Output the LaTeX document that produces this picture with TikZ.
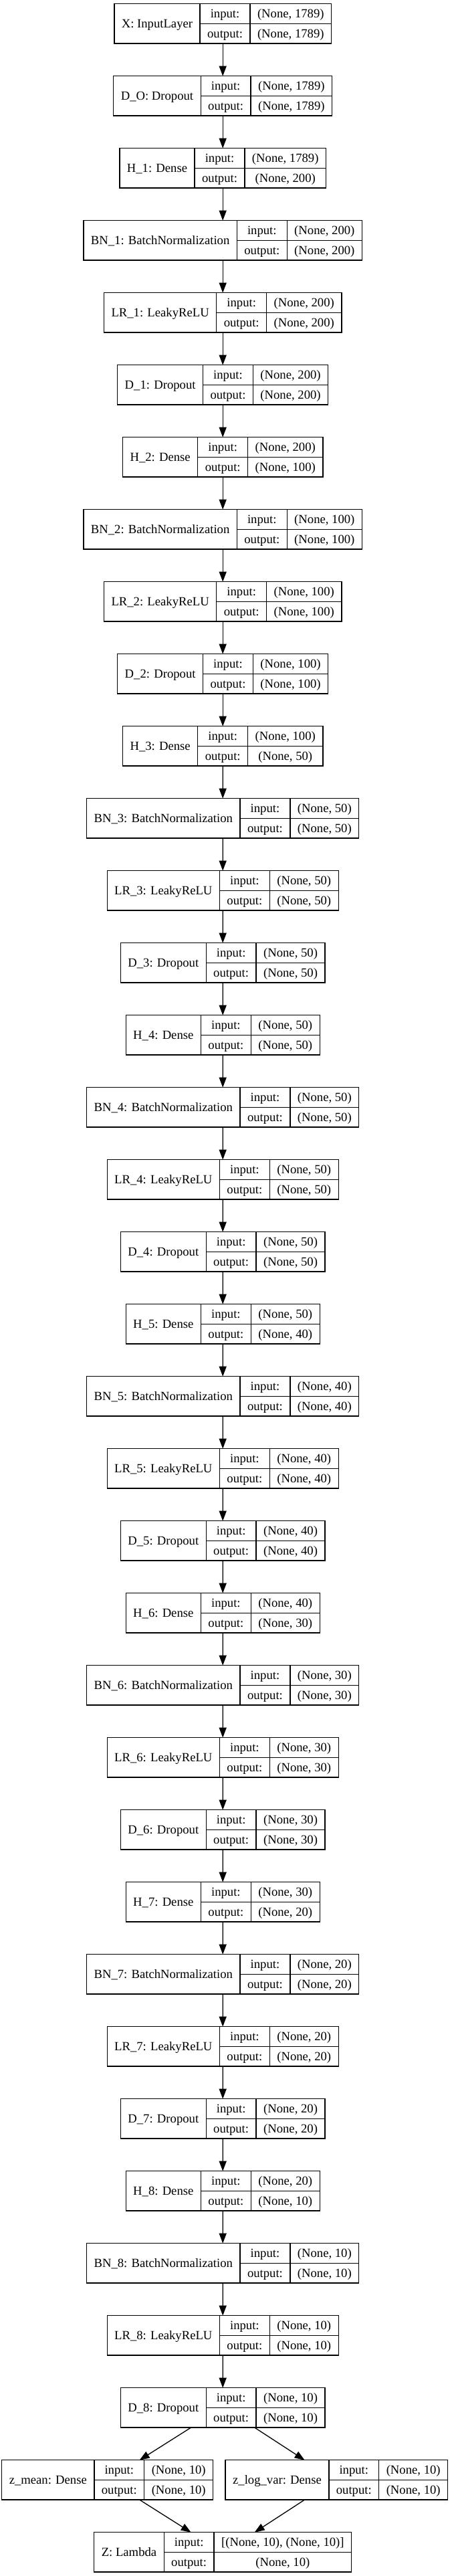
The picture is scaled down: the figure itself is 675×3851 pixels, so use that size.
\documentclass[tikz,border=0pt]{standalone}
\usepackage{fontspec}
\setmainfont{Liberation Serif}
\newfontfamily\kfamily{Liberation Serif}
\newcommand\kfont{\kfamily\fontsize{18.67}{22}\selectfont}
\usetikzlibrary{arrows.meta,fit,calc}
\newdimen\kwdA \newdimen\kwdB \newdimen\kwdC \newdimen\kwdD
\tikzset{
  cell/.style={draw=black, line width=1.33pt, inner sep=0pt, outer sep=0pt,
    font=\kfont, text height=14pt, text depth=2pt, align=center},
  arr/.style={line width=1.33pt, -{Triangle[length=15pt,width=11pt]}},
  whole/.style={inner sep=0pt, outer sep=0pt}
}
% measuring pass (outside the picture): name, center x, row, label, input value, output value
\newcommand\kmeasure[6]{%
  \settowidth\kwdA{\kfont #4}%
  \settowidth\kwdB{\kfont output:}%
  \settowidth\kwdC{\kfont #5}%
  \settowidth\kwdD{\kfont #6}%
  \ifdim\kwdD>\kwdC \kwdC=\kwdD\fi
  \expandafter\xdef\csname kwA#1\endcsname{\the\kwdA}%
  \expandafter\xdef\csname kwB#1\endcsname{\the\kwdB}%
  \expandafter\xdef\csname kwC#1\endcsname{\the\kwdC}%
}
% drawing pass
\newcommand\kdraw[6]{%
  \edef\kta{\csname kwA#1\endcsname}%
  \edef\ktb{\csname kwB#1\endcsname}%
  \edef\ktc{\csname kwC#1\endcsname}%
  \pgfmathsetmacro\kwa{\kta+22}%
  \pgfmathsetmacro\kwb{\ktb+22}%
  \pgfmathsetmacro\kwc{\ktc+22}%
  \pgfmathsetmacro\kxl{#2-(\kwa+\kwb+\kwc)/2}%
  \pgfmathsetmacro\kyt{-(5.7+108*#3)}%
  \node[cell, minimum width=\kwa pt, minimum height=59.3pt, anchor=north west] (#1-l) at (\kxl pt, \kyt pt) {#4};
  \node[cell, minimum width=\kwb pt, minimum height=29.65pt, anchor=north west] (#1-i) at (#1-l.north east) {input:};
  \node[cell, minimum width=\kwb pt, minimum height=29.65pt, anchor=north west] (#1-o) at (#1-i.south west) {output:};
  \node[cell, minimum width=\kwc pt, minimum height=29.65pt, anchor=north west] (#1-vi) at (#1-i.north east) {#5};
  \node[cell, minimum width=\kwc pt, minimum height=29.65pt, anchor=north west] (#1-vo) at (#1-vi.south west) {#6};
  \node[whole, fit=(#1-l)(#1-vo)] (#1) {};
}
\newcommand\klayers{%
\kentry{X}{333.2}{0}{X: InputLayer}{(None, 1789)}{(None, 1789)}%
\kentry{DO}{333.2}{1}{D\_O: Dropout}{(None, 1789)}{(None, 1789)}%
\kentry{H1}{333.2}{2}{H\_1: Dense}{(None, 1789)}{(None, 200)}%
\kentry{BN1}{333.2}{3}{BN\_1: BatchNormalization}{(None, 200)}{(None, 200)}%
\kentry{LR1}{333.2}{4}{LR\_1: LeakyReLU}{(None, 200)}{(None, 200)}%
\kentry{D1}{333.2}{5}{D\_1: Dropout}{(None, 200)}{(None, 200)}%
\kentry{H2}{333.2}{6}{H\_2: Dense}{(None, 200)}{(None, 100)}%
\kentry{BN2}{333.2}{7}{BN\_2: BatchNormalization}{(None, 100)}{(None, 100)}%
\kentry{LR2}{333.2}{8}{LR\_2: LeakyReLU}{(None, 100)}{(None, 100)}%
\kentry{D2}{333.2}{9}{D\_2: Dropout}{(None, 100)}{(None, 100)}%
\kentry{H3}{333.2}{10}{H\_3: Dense}{(None, 100)}{(None, 50)}%
\kentry{BN3}{333.2}{11}{BN\_3: BatchNormalization}{(None, 50)}{(None, 50)}%
\kentry{LR3}{333.2}{12}{LR\_3: LeakyReLU}{(None, 50)}{(None, 50)}%
\kentry{D3}{333.2}{13}{D\_3: Dropout}{(None, 50)}{(None, 50)}%
\kentry{H4}{333.2}{14}{H\_4: Dense}{(None, 50)}{(None, 50)}%
\kentry{BN4}{333.2}{15}{BN\_4: BatchNormalization}{(None, 50)}{(None, 50)}%
\kentry{LR4}{333.2}{16}{LR\_4: LeakyReLU}{(None, 50)}{(None, 50)}%
\kentry{D4}{333.2}{17}{D\_4: Dropout}{(None, 50)}{(None, 50)}%
\kentry{H5}{333.2}{18}{H\_5: Dense}{(None, 50)}{(None, 40)}%
\kentry{BN5}{333.2}{19}{BN\_5: BatchNormalization}{(None, 40)}{(None, 40)}%
\kentry{LR5}{333.2}{20}{LR\_5: LeakyReLU}{(None, 40)}{(None, 40)}%
\kentry{D5}{333.2}{21}{D\_5: Dropout}{(None, 40)}{(None, 40)}%
\kentry{H6}{333.2}{22}{H\_6: Dense}{(None, 40)}{(None, 30)}%
\kentry{BN6}{333.2}{23}{BN\_6: BatchNormalization}{(None, 30)}{(None, 30)}%
\kentry{LR6}{333.2}{24}{LR\_6: LeakyReLU}{(None, 30)}{(None, 30)}%
\kentry{D6}{333.2}{25}{D\_6: Dropout}{(None, 30)}{(None, 30)}%
\kentry{H7}{333.2}{26}{H\_7: Dense}{(None, 30)}{(None, 20)}%
\kentry{BN7}{333.2}{27}{BN\_7: BatchNormalization}{(None, 20)}{(None, 20)}%
\kentry{LR7}{333.2}{28}{LR\_7: LeakyReLU}{(None, 20)}{(None, 20)}%
\kentry{D7}{333.2}{29}{D\_7: Dropout}{(None, 20)}{(None, 20)}%
\kentry{H8}{333.2}{30}{H\_8: Dense}{(None, 20)}{(None, 10)}%
\kentry{BN8}{333.2}{31}{BN\_8: BatchNormalization}{(None, 10)}{(None, 10)}%
\kentry{LR8}{333.2}{32}{LR\_8: LeakyReLU}{(None, 10)}{(None, 10)}%
\kentry{D8}{333.2}{33}{D\_8: Dropout}{(None, 10)}{(None, 10)}%
\kentry{zmean}{160.7}{34}{z\_mean: Dense}{(None, 10)}{(None, 10)}%
\kentry{zlogvar}{503.4}{34}{z\_log\_var: Dense}{(None, 10)}{(None, 10)}%
\kentry{Z}{333.2}{35}{Z: Lambda}{[(None, 10), (None, 10)]}{(None, 10)}%
}
\begin{document}
\let\kentry\kmeasure\klayers%
\begin{tikzpicture}
\fill[white] (0pt,0pt) rectangle (675pt,-3851pt);
\useasboundingbox (0pt,0pt) rectangle (675pt,-3851pt);
\let\kentry\kdraw
\klayers
\foreach \a/\b in {X/DO, DO/H1, H1/BN1, BN1/LR1, LR1/D1, D1/H2, H2/BN2, BN2/LR2, LR2/D2, D2/H3,
  H3/BN3, BN3/LR3, LR3/D3, D3/H4, H4/BN4, BN4/LR4, LR4/D4, D4/H5, H5/BN5, BN5/LR5, LR5/D5, D5/H6,
  H6/BN6, BN6/LR6, LR6/D6, D6/H7, H7/BN7, BN7/LR7, LR7/D7, D7/H8, H8/BN8, BN8/LR8, LR8/D8}
  \draw[arr] (\a.south) -- (\b.north);
\draw[arr] ([xshift=-47.5pt]D8.south) -- ([xshift=48pt]zmean.north);
\draw[arr] ([xshift=47.5pt]D8.south) -- ([xshift=-47.8pt]zlogvar.north);
\draw[arr] ([xshift=48pt]zmean.south) -- ([xshift=-47.5pt]Z.north);
\draw[arr] ([xshift=-47.8pt]zlogvar.south) -- ([xshift=47.5pt]Z.north);
\end{tikzpicture}
\end{document}
